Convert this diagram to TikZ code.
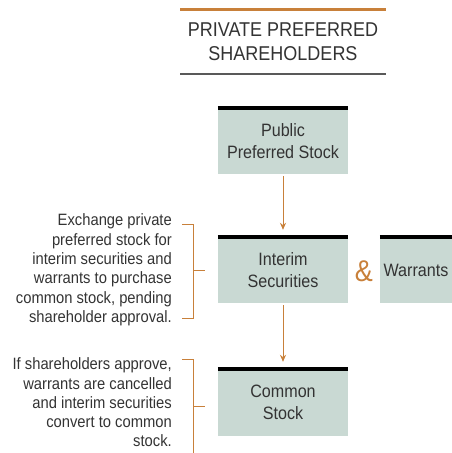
\documentclass[tikz,border=0pt]{standalone}
\usepackage{fontspec}
\setmainfont{Liberation Sans}[FakeStretch=0.9]
\usepackage{tikz}
\usetikzlibrary{arrows.meta}

\definecolor{boxfill}{HTML}{C9D9D3}
\definecolor{accent}{HTML}{C8803A}
\definecolor{inkgray}{HTML}{333333}

\tikzset{
    stockbox/.style={fill=boxfill,minimum width=130pt,minimum height=66pt,inner sep=0pt,
        align=center,text=inkgray,font=\fontsize{17.9}{22}\selectfont},
    topbar/.style={draw=black,line width=3.5pt},
    note/.style={align=right,anchor=east,text=inkgray,inner sep=0pt,font=\fontsize{16.4}{19.3}\selectfont},
    bracket/.style={draw=accent,line width=0.8pt}
}

\begin{document}
\begin{tikzpicture}[x=1pt,y=-1pt]
        \useasboundingbox (0,0) rectangle (452,453);

        % heading
        \draw[accent,line width=3pt] (180,9) -- (386,9);
        \node[text=inkgray,align=center,font=\fontsize{20}{24}\selectfont] (head) at (283,42) {PRIVATE PREFERRED\\SHAREHOLDERS};
        \draw[black!65,line width=1.8pt] (180,74) -- (386,74);

        \begin{scope}[every node/.style={stockbox}]
            \node (pub) at (283,141) {Public\\Preferred Stock};
            \node (int) at (283,270) {Interim\\Securities};
            \node[minimum width=72pt] (war) at (416,270) {Warrants};
            \node[minimum height=67pt] (com) at (283,402.5) {Common\\Stock};
        \end{scope}
        \foreach \n in {pub,int,war,com}
            \draw[topbar] (\n.north west) -- (\n.north east);

        \node[text=accent,font=\fontsize{30}{30}\selectfont] (amp) at (364,271) {\&};

        \begin{scope}[every edge/.style={draw=accent,line width=0.8pt,-{Stealth[length=7pt,width=6pt]},shorten <=2pt,shorten >=7pt}]
            \path (pub) edge (int);
            \path (int) edge (com);
        \end{scope}

        % notes
        \node[note] (n1) at (172,270) {Exchange private\\preferred stock for\\interim securities and\\warrants to purchase\\common stock, pending\\shareholder approval.};
        \draw[bracket] (182,224) -- (193,224) -- (193,318) -- (182,318);
        \draw[bracket] (193,270) -- (205,270);

        \node[note] (n2) at (172,402.5) {If shareholders approve,\\warrants are cancelled\\and interim securities\\convert to common\\stock.};
        \draw[bracket] (182,359) -- (193,359) -- (193,453);
        \draw[bracket] (193,406) -- (205,406);
\end{tikzpicture}
\end{document}
